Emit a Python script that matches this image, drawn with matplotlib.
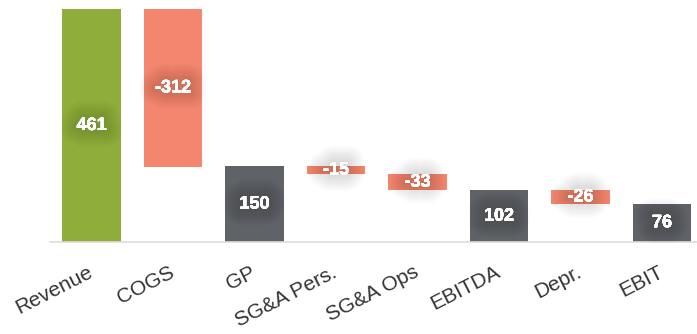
import matplotlib
matplotlib.use('Agg')
import matplotlib.pyplot as plt
import matplotlib.patheffects as pe
import numpy as np

plt.rcParams['font.family'] = ['Liberation Sans', 'DejaVu Sans']

# P&L waterfall: totals are absolute, steps are changes from the previous level
categories = ['Revenue', 'COGS', 'GP', 'SG&A Pers.', 'SG&A Ops', 'EBITDA', 'Depr.', 'EBIT']
values = [461, -312, 150, -15, -33, 102, -26, 76]
kinds = ['start', 'step', 'total', 'step', 'step', 'total', 'step', 'total']

colors = {'start': '#8fad3a', 'step': '#f4866f', 'total': '#5f6368'}

bottoms, heights = [], []
level = 0
for v, k in zip(values, kinds):
    if k == 'step':
        bottoms.append(level + v if v < 0 else level)
        heights.append(abs(v))
        level += v
    else:
        bottoms.append(0)
        heights.append(v)
        level = v

fig = plt.figure(figsize=(6.97, 3.34), dpi=100)
ax = fig.add_axes([50 / 697, 1 - 242 / 334, 647 / 697, 233 / 334])

x = np.arange(len(categories))
bars = ax.bar(x, heights, bottom=bottoms, width=0.72,
              color=[colors[k] for k in kinds], edgecolor='none')

# soft dark glow behind the white value labels (stacked faint strokes)
glow = [pe.withStroke(linewidth=lw, foreground='#000000', alpha=0.012)
        for lw in range(24, 1, -2)]
glow.append(pe.Normal())
for xi, b, h, v in zip(x, bottoms, heights, values):
    ax.text(xi, b + h / 2, f'{v}', ha='center', va='center', color='white',
            fontsize=13, fontweight='bold', path_effects=glow)

ax.set_xlim(-0.51, 7.43)
ax.set_ylim(0, 461)
for s in ['top', 'right', 'left']:
    ax.spines[s].set_visible(False)
ax.spines['bottom'].set_color('#dddddd')
ax.spines['bottom'].set_linewidth(1.2)
ax.set_yticks([])
ax.set_xticks(x)
ax.set_xticklabels(categories, rotation=27, ha='right', va='center',
                   rotation_mode='anchor', fontsize=15, color='#333333')
ax.tick_params(axis='x', length=0, pad=21)

fig.savefig('out.png', dpi=100)
